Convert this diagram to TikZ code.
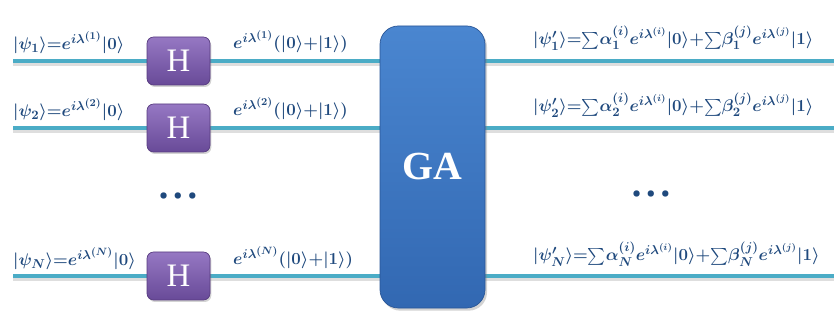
\documentclass[tikz,border=0pt]{standalone}
\usepackage{amsmath,bm}
\usepackage{fontspec}
\newfontfamily\gatefont{Liberation Serif}
\DeclareMathSizes{14.5}{14.5}{11}{9}
\DeclareMathSizes{13.5}{13.5}{10.5}{8.5}
\usetikzlibrary{shadows,backgrounds}
\definecolor{txt}{RGB}{31,73,125}
\definecolor{wirec}{RGB}{75,172,198}
\definecolor{hdark}{RGB}{88,60,128}
\definecolor{htop}{RGB}{150,120,195}
\definecolor{hbot}{RGB}{104,74,152}
\definecolor{gatop}{RGB}{74,134,208}
\definecolor{gabot}{RGB}{50,104,178}
\definecolor{gadraw}{RGB}{40,85,150}
\begin{document}
\begin{tikzpicture}[x=0.03cm,y=-0.03cm,
  hgate/.style={draw=hdark,line width=0.6pt,rounded corners=0.2cm,top color=htop,bottom color=hbot,
    minimum width=1.89cm,minimum height=1.44cm,inner sep=0pt,text=white,
    font=\gatefont\fontsize{28}{30}\selectfont,
    drop shadow={shadow xshift=0.04cm,shadow yshift=-0.06cm,opacity=0.35}},
  gagate/.style={draw=gadraw,line width=0.6pt,rounded corners=0.55cm,top color=gatop,bottom color=gabot,
    minimum width=3.15cm,minimum height=8.46cm,inner sep=0pt,text=white,
    font=\gatefont\bfseries\fontsize{34}{36}\selectfont,
    drop shadow={shadow xshift=0.06cm,shadow yshift=-0.08cm,opacity=0.35}},
  lbl/.style={text=txt,inner sep=0pt,font=\fontsize{14.5}{17}\selectfont\boldmath},
  rlbl/.style={text=txt,inner sep=0pt,font=\fontsize{13.5}{16}\selectfont\boldmath},
  wire/.style={draw=wirec,line width=2.6pt},
  wireshadow/.style={draw=black!13,line width=2.6pt},
  dots/.style={text=txt,inner sep=0pt,font=\fontsize{12}{14}\selectfont\boldmath}
]
\useasboundingbox (0,0) rectangle (834,320);

% gates
\node[hgate] (H1) at (178.5,61) {H};
\node[hgate] (H2) at (178.5,128) {H};
\node[hgate] (HN) at (178.5,276) {H};
\node[gagate] (GA) at (432.5,167) {GA};

% wire end points
\coordinate (in1) at (13,61);
\coordinate (in2) at (13,128);
\coordinate (inN) at (13,276);
\coordinate (out1) at (834,61);
\coordinate (out2) at (834,128);
\coordinate (outN) at (834,276);

\begin{pgfonlayer}{background}
  \foreach \r in {1,2,N}{
    \draw[wireshadow] ([yshift=-0.09cm]in\r) -- ([yshift=-0.09cm]out\r);
    \draw[wire] (in\r) -- (H\r.west);
    \draw[wire] (H\r.east) -- (GA.west |- H\r.east);
    \draw[wire] (GA.east |- H\r.east) -- (out\r);
  }
\end{pgfonlayer}

% left labels
\node[lbl,anchor=base west] (L1) at (13,50) {$|\psi_1\rangle{=}e^{i\lambda^{(1)}}|0\rangle$};
\node[lbl,anchor=base west] (L2) at (13,117) {$|\psi_2\rangle{=}e^{i\lambda^{(2)}}|0\rangle$};
\node[lbl,anchor=base west] (LN) at (13,266) {$|\psi_N\rangle{=}e^{i\lambda^{(N)}}|0\rangle$};

% middle labels
\node[lbl,anchor=base west] (M1) at (233,49) {$e^{i\lambda^{(1)}}(|0\rangle{+}|1\rangle)$};
\node[lbl,anchor=base west] (M2) at (233,116) {$e^{i\lambda^{(2)}}(|0\rangle{+}|1\rangle)$};
\node[lbl,anchor=base west] (MN) at (233,265) {$e^{i\lambda^{(N)}}(|0\rangle{+}|1\rangle)$};

% right labels
\node[rlbl,anchor=base west] (R1) at (533,45) {$|\psi'_1\rangle{=}{\textstyle\sum}\alpha_1^{(i)}e^{i\lambda^{(i)}}|0\rangle{+}{\textstyle\sum}\beta_1^{(j)}e^{i\lambda^{(j)}}|1\rangle$};
\node[rlbl,anchor=base west] (R2) at (533,112) {$|\psi'_2\rangle{=}{\textstyle\sum}\alpha_2^{(i)}e^{i\lambda^{(i)}}|0\rangle{+}{\textstyle\sum}\beta_2^{(j)}e^{i\lambda^{(j)}}|1\rangle$};
\node[rlbl,anchor=base west] (RN) at (533,261) {$|\psi'_N\rangle{=}{\textstyle\sum}\alpha_N^{(i)}e^{i\lambda^{(i)}}|0\rangle{+}{\textstyle\sum}\beta_N^{(j)}e^{i\lambda^{(j)}}|1\rangle$};

% dots
\node[dots] (D1) at (178,196) {$\bullet\mkern3mu\bullet\mkern3mu\bullet$};
\node[dots] (D2) at (651,194) {$\bullet\mkern3mu\bullet\mkern3mu\bullet$};
\end{tikzpicture}
\end{document}
